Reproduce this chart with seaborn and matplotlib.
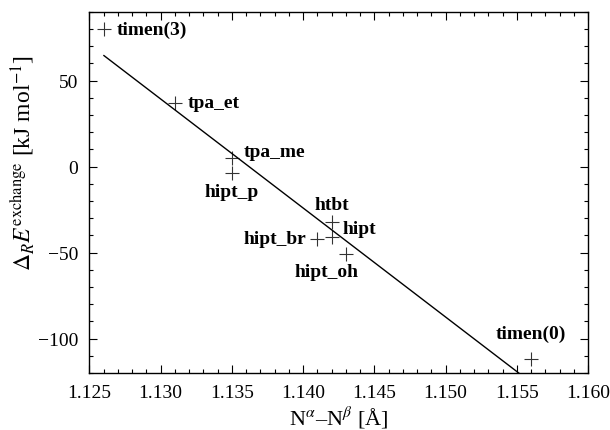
import matplotlib
matplotlib.use("Agg")
import matplotlib.pyplot as plt
import seaborn as sns
import pandas as pd
from matplotlib.ticker import MultipleLocator, FormatStrFormatter

# data
names = ["timen(3)", "tpa_et", "tpa_me", "hipt_p", "htbt", "hipt", "hipt_br", "hipt_oh", "timen(0)"]
nn_dist = [1.126, 1.131, 1.135, 1.135, 1.142, 1.142, 1.141, 1.143, 1.156]
energy = [80, 37, 5, -4, -32, -41, -42, -51, -112]

df = pd.DataFrame({"name": names, "x": nn_dist, "y": energy})

sns.set_theme(style="ticks")
plt.rcParams["font.family"] = ["Liberation Serif", "DejaVu Serif"]
plt.rcParams["mathtext.fontset"] = "stix"
plt.rcParams["text.color"] = "black"
plt.rcParams["axes.labelcolor"] = "black"

fig = plt.figure(figsize=(6.1, 4.31), dpi=100)
ax = fig.add_axes([0.1467, 0.1323, 0.8173, 0.8382])

sns.regplot(data=df, x="x", y="y", ax=ax, ci=None, truncate=True,
            marker="+", color="black",
            scatter_kws={"s": 90, "linewidths": 0.8},
            line_kws={"linewidth": 1.0})

offsets = {
    "timen(3)": ((9, 0), "left"),
    "tpa_et": ((9, 0), "left"),
    "tpa_me": ((8.6, 4.5), "left"),
    "hipt_p": ((0, -13), "center"),
    "htbt": ((0, 12), "center"),
    "hipt": ((8, 6), "left"),
    "hipt_br": ((-8, 0), "right"),
    "hipt_oh": ((-14, -12.5), "center"),
    "timen(0)": ((0, 18.5), "center"),
}
for n, xv, yv in zip(names, nn_dist, energy):
    off, ha = offsets[n]
    ax.annotate(n, (xv, yv), xytext=off, textcoords="offset points",
                ha=ha, va="center", fontsize=14, fontweight="bold", color="black")

ax.set_xlim(1.125, 1.160)
ax.set_ylim(-120, 90)
ax.xaxis.set_major_locator(MultipleLocator(0.005))
ax.xaxis.set_minor_locator(MultipleLocator(0.001))
ax.xaxis.set_major_formatter(FormatStrFormatter("%.3f"))
ax.yaxis.set_major_locator(MultipleLocator(50))
ax.yaxis.set_minor_locator(MultipleLocator(10))
ax.tick_params(which="both", direction="in", top=True, right=True, labelsize=14,
               colors="black", pad=8)
ax.tick_params(which="major", length=6, width=0.8)
ax.tick_params(which="minor", length=3, width=0.8)
for s in ax.spines.values():
    s.set_linewidth(1.0)
    s.set_color("black")

ax.set_xlabel(r"N$^{\alpha}$–N$^{\beta}$ [Å]", fontsize=16, labelpad=2)
ax.set_ylabel(r"$\Delta_R E^{\mathrm{exchange}}$ [kJ mol$^{-1}$]", fontsize=17)
ax.yaxis.set_label_coords(-0.108, 0.583)

fig.savefig("out.png", dpi=100)
